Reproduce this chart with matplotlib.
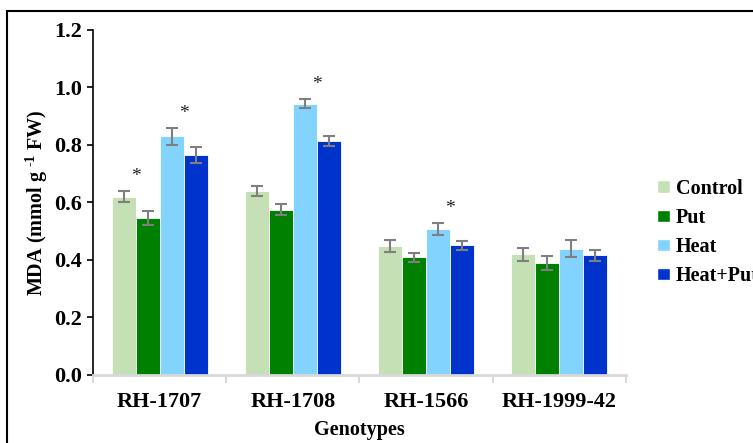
import matplotlib
matplotlib.use("Agg")
import matplotlib.pyplot as plt
from matplotlib.patches import Rectangle, Patch
import numpy as np

genotypes = ["RH-1707", "RH-1708", "RH-1566", "RH-1999-42"]
treatments = ["Control", "Put", "Heat", "Heat+Put"]
colors = ["#C5E0B4", "#008000", "#83D3FF", "#0033CC"]

control = [0.62, 0.641, 0.449, 0.42]
put = [0.547, 0.575, 0.409, 0.39]
heat = [0.83, 0.944, 0.508, 0.439]
heat_put = [0.765, 0.814, 0.451, 0.416]

control_err = [0.02, 0.018, 0.02, 0.023]
put_err = [0.025, 0.02, 0.016, 0.024]
heat_err = [0.03, 0.017, 0.021, 0.03]
heat_put_err = [0.027, 0.017, 0.015, 0.02]

# significance marks: (genotype index, treatment index)
stars = [(0, 0), (0, 2), (1, 2), (2, 2)]

plt.rcParams["font.family"] = ["Liberation Serif", "DejaVu Serif"]
plt.rcParams["font.weight"] = "bold"
plt.rcParams["mathtext.fontset"] = "custom"
plt.rcParams["mathtext.rm"] = "Liberation Serif:bold"
plt.rcParams["mathtext.bf"] = "Liberation Serif:bold"
plt.rcParams["mathtext.default"] = "rm"

fig = plt.figure(figsize=(7.53, 4.43), dpi=100)
ax = fig.add_axes([0.1235, 0.1535, 0.7078, 0.7788])

values = [control, put, heat, heat_put]
errors = [control_err, put_err, heat_err, heat_put_err]
x = np.arange(len(genotypes))
width = 0.18
offsets = [-0.27, -0.09, 0.09, 0.27]

for vals, errs, col, off, name in zip(values, errors, colors, offsets, treatments):
    ax.bar(x + off, vals, width, color=col, edgecolor="white", linewidth=0.6,
           label=name, zorder=2)
    ax.errorbar(x + off, vals, yerr=errs, fmt="none", ecolor="#7F7F7F",
                elinewidth=1.5, capsize=4, capthick=1.5, zorder=3)

for g, t in stars:
    top = values[t][g] + errors[t][g]
    ax.text(x[g] + offsets[t] + width / 2, top + 0.05, "*", ha="center",
            va="center", fontsize=14, fontweight="normal", color="#222222")

ax.set_xlim(-0.5, 3.5)
ax.set_ylim(0, 1.2)
ticks = np.arange(0, 1.21, 0.2)
ax.set_yticks(ticks)
ax.set_yticklabels([f"{v:.1f}" for v in ticks], fontsize=16, fontweight="bold")
ax.set_xticks(x)
ax.set_xticklabels(genotypes, fontsize=16, fontweight="bold")
ax.set_xticks(np.arange(-0.5, 3.6, 1), minor=True)
ax.tick_params(axis="x", which="major", length=0, pad=12)
ax.tick_params(axis="x", which="minor", length=6, color="#D9D9D9", width=1.5,
               direction="out")
ax.tick_params(axis="y", length=4, width=1.2, color="black", pad=4)

for s in ["top", "right"]:
    ax.spines[s].set_visible(False)
ax.spines["left"].set_linewidth(1.2)
ax.spines["bottom"].set_color("#D9D9D9")
ax.spines["bottom"].set_linewidth(2)

ax.set_ylabel("MDA (mmol g $^{\u2010 1}$ FW)", fontsize=14.5, fontweight="bold",
              labelpad=3)
ax.set_xlabel("Genotypes", fontsize=14.5, fontweight="bold", labelpad=6)

handles = [Patch(facecolor=c, edgecolor="white") for c in colors]
fig.legend(handles, treatments, loc="upper left", bbox_to_anchor=(0.849, 0.637),
           frameon=False, handlelength=0.6, handleheight=0.6,
           handletextpad=0.3, labelspacing=0.45,
           prop={"weight": "bold", "size": 14.5})

fig.patches.append(Rectangle((7 / 753, -0.1), 2.0, 1 - 11 / 443 + 0.1,
                             transform=fig.transFigure, fill=False,
                             edgecolor="black", linewidth=1.5))

fig.savefig("out.png", dpi=100)
